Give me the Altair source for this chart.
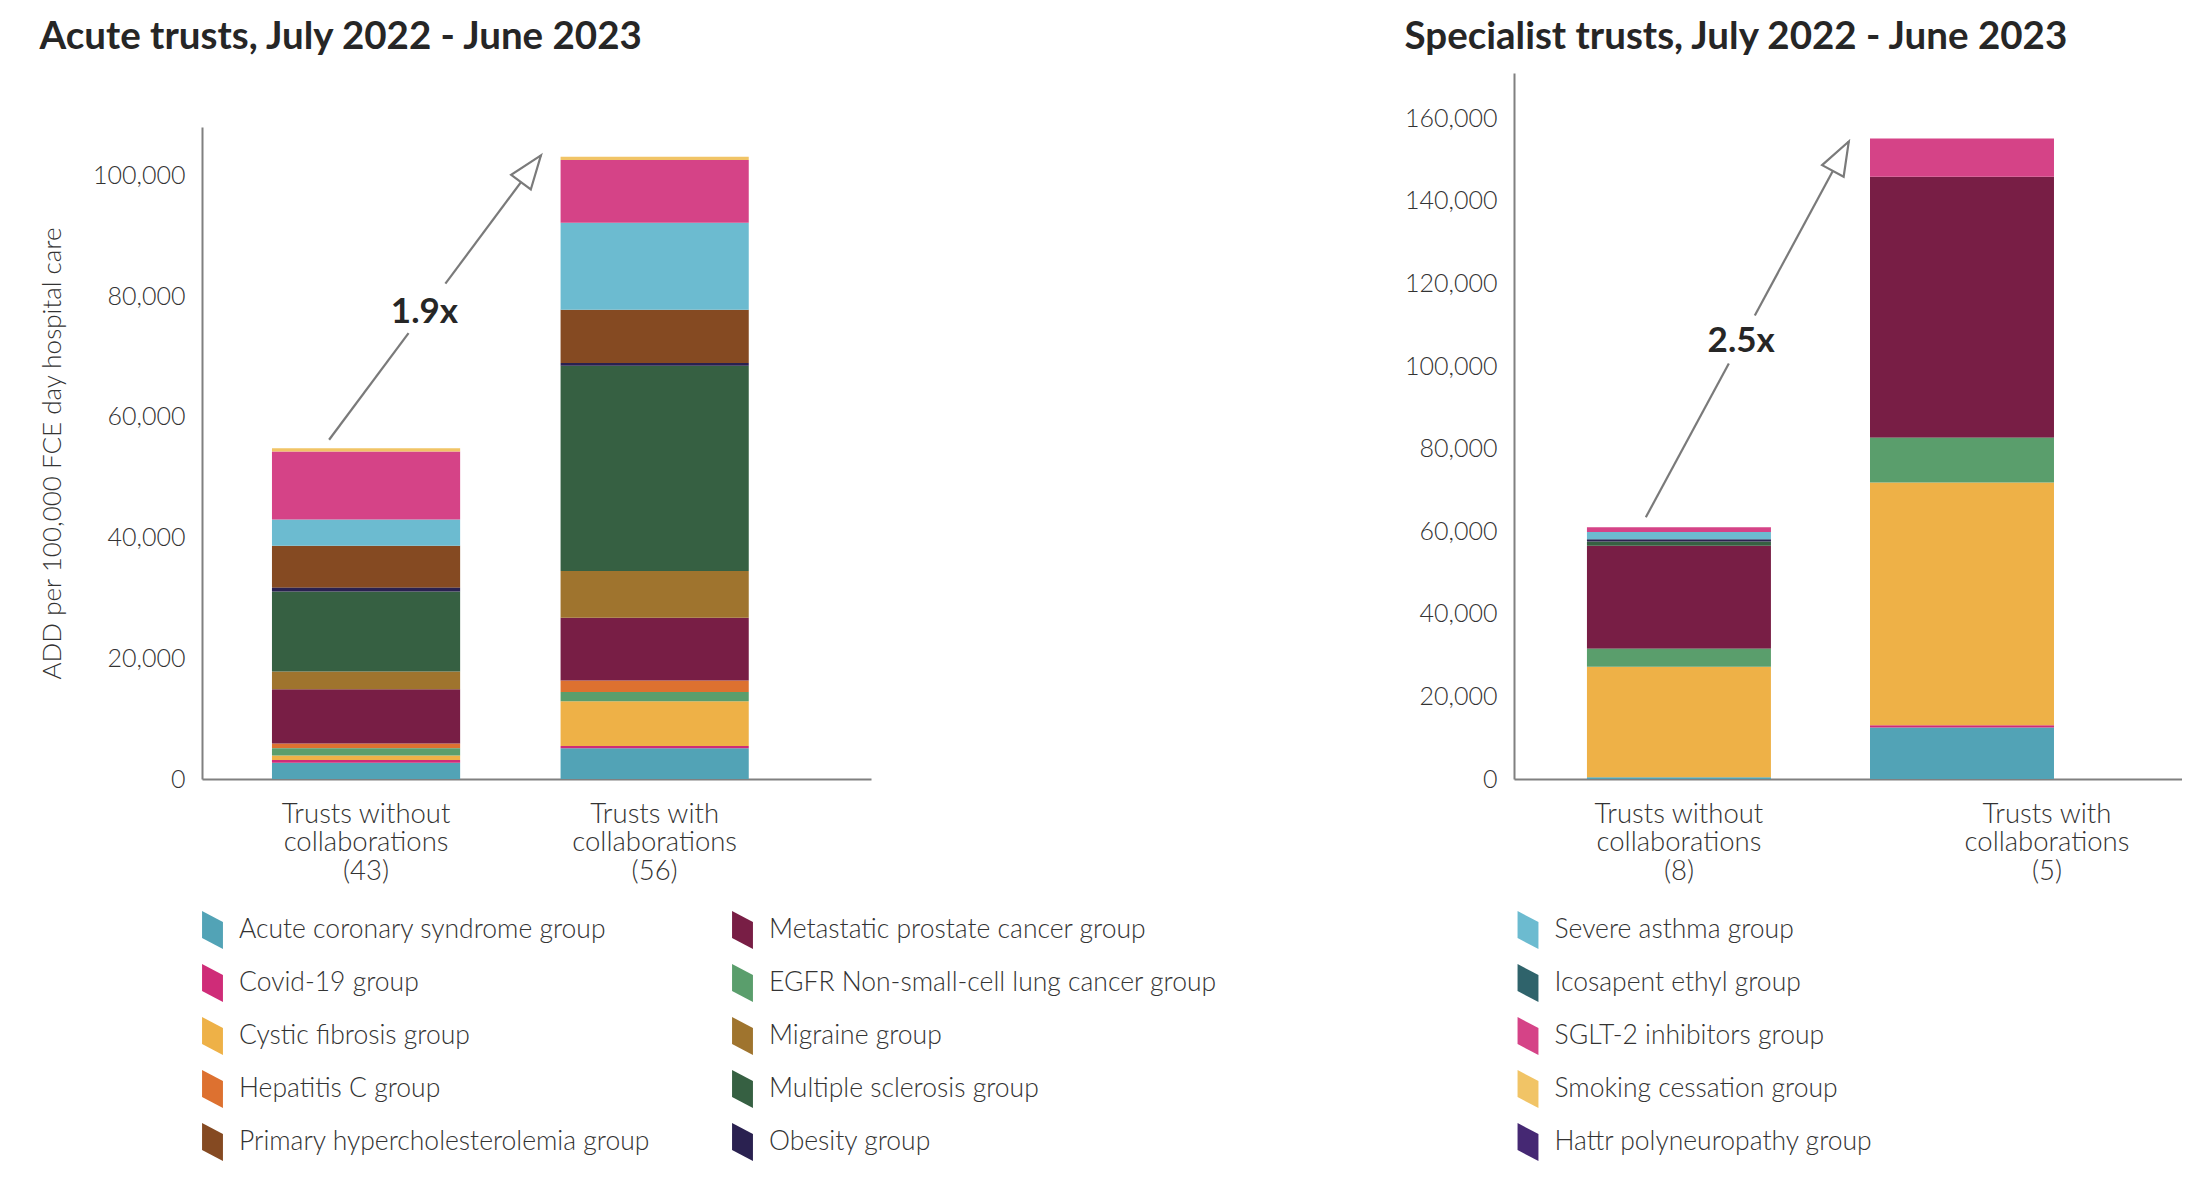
import math
import altair as alt
import pandas as pd

# ---------------- data ----------------
groups = [
    "Acute coronary syndrome group", "Covid-19 group", "Cystic fibrosis group",
    "Hepatitis C group", "Primary hypercholesterolemia group",
    "Metastatic prostate cancer group", "EGFR Non-small-cell lung cancer group",
    "Migraine group", "Multiple sclerosis group", "Obesity group",
    "Severe asthma group", "Icosapent ethyl group", "SGLT-2 inhibitors group",
    "Smoking cessation group", "Hattr polyneuropathy group",
]
colors = [
    "#52a3b6", "#cf2c78", "#eeb147", "#dd7130", "#854a22",
    "#781e45", "#5a9e6c", "#9f742e", "#366042", "#2a2150",
    "#6cbbd0", "#2f636b", "#d54387", "#f1c466", "#452873",
]

acute_cats = ["Trusts without\ncollaborations\n(43)", "Trusts with\ncollaborations\n(56)"]
spec_cats = ["Trusts without\ncollaborations\n(8)", "Trusts with\ncollaborations\n(5)"]

acute_without = [2700, 450, 750, 800, 6950, 8950, 1200, 2950, 13250, 650, 4350, 0, 11250, 520, 0]
acute_with = [5100, 370, 7400, 1900, 8800, 10400, 1550, 7750, 34000, 450, 14400, 0, 10400, 550, 0]
spec_without = [450, 0, 26750, 0, 0, 24950, 4350, 0, 1050, 500, 1750, 0, 1200, 0, 0]
spec_with = [12450, 550, 58800, 0, 0, 63250, 10850, 0, 0, 0, 0, 0, 9250, 0, 0]

acute_ticks = [0, 20000, 40000, 60000, 80000, 100000]
spec_ticks = [0, 20000, 40000, 60000, 80000, 100000, 120000, 140000, 160000]

# arrow annotation: x in bar units (0 = centre of 1st bar, 1 = centre of 2nd bar)
acute_arrow_x = [-0.128, 0.606]
acute_arrow_y = [56200, 103300]
spec_arrow_x = [-0.117, 0.600]
spec_arrow_y = [63400, 154400]

FONT = "Lato"
TXT = "#333333"
AX = "#808080"
PARA = "M-0.55,-1 L0.55,-0.42 L0.55,1 L-0.55,0.42 Z"
HEAD = "M0,0 L-1,2.73 L1,2.73 Z"
PLOT_H = 706

stack_rank = {g: i for i, g in enumerate(sorted(groups, key=str.lower))}


def band_geometry(width, n, pi, po, align):
    step = width / (n - pi + 2 * po)
    start = (width - step * (n - pi)) * align
    return step, start, step * (1 - pi)


def trust_chart(title, cats, without, with_, ymax, ticks, width, axis_len,
                pi, po, align, arrow_x, arrow_y, gap, label_t, ytitle,
                legend_values, legend_cols, legend_x, legend_y, col_pad, label2_offset):
    rows = []
    for cat, vals in zip(cats, [without, with_]):
        for g, v in zip(groups, vals):
            if v > 0:
                rows.append({"cat": cat, "group": g, "value": v, "rank": stack_rank[g]})
    df = pd.DataFrame(rows)

    yscale = alt.Scale(domain=[0, ymax], nice=False, zero=True,
                       range=[PLOT_H, PLOT_H - axis_len])
    yaxis = alt.Axis(values=ticks, format=",d", ticks=False, grid=False,
                     domainColor=AX, domainWidth=2,
                     labelFont=FONT, labelFontSize=25, labelColor=TXT, labelFontWeight=300,
                     labelPadding=17,
                     titleFont=FONT, titleFontSize=26, titleFontWeight=300,
                     titleColor=TXT, titlePadding=27)
    xaxis = alt.Axis(labelExpr="split(datum.label, '\\n')", labelAngle=0,
                     labelFont=FONT, labelFontSize=27.5, labelColor=TXT, labelFontWeight=300,
                     labelLineHeight=28.7, labelPadding=21, labelLimit=400,
                     labelOffset={"condition": {"test": "datum.index > 0.5", "value": label2_offset},
                                  "value": 0},
                     ticks=False, domainColor=AX, domainWidth=2)

    bars = alt.Chart(df).mark_bar().encode(
        x=alt.X("cat:N", sort=cats, title=None,
                scale=alt.Scale(domain=cats, paddingInner=pi, paddingOuter=po, align=align),
                axis=xaxis),
        y=alt.Y("value:Q", stack="zero", scale=yscale, axis=yaxis, title=ytitle),
        color=alt.Color("group:N", scale=alt.Scale(domain=groups, range=colors),
                        legend=alt.Legend(values=legend_values, columns=legend_cols,
                                          orient="none", legendX=legend_x, legendY=legend_y,
                                          title=None, symbolType=PARA, symbolSize=1444,
                                          symbolStrokeWidth=0, symbolOpacity=1,
                                          labelFont=FONT, labelFontSize=26.5, labelFontWeight=300,
                                          labelColor=TXT, labelOffset=7.5, labelLimit=700,
                                          rowPadding=15, columnPadding=col_pad, padding=0)),
        order=alt.Order("rank:Q", sort="ascending"),
    )

    step, start, bw = band_geometry(width, 2, pi, po, align)
    c1 = start + bw / 2
    ax_scale = alt.Scale(domain=[-c1 / step, (width - c1) / step], nice=False, zero=False)

    x0, x1 = arrow_x
    y0, y1 = arrow_y
    t1, t2 = gap
    seg = pd.DataFrame({
        "x": [x0, x0 + (x1 - x0) * t2],
        "y": [y0, y0 + (y1 - y0) * t2],
        "x2": [x0 + (x1 - x0) * t1, x1],
        "y2": [y0 + (y1 - y0) * t1, y1],
    })
    rules = alt.Chart(seg).mark_rule(color="#7a7a7a", strokeWidth=2.2).encode(
        x=alt.X("x:Q", scale=ax_scale, axis=None), x2="x2:Q",
        y=alt.Y("y:Q", scale=yscale, axis=yaxis, title=ytitle), y2="y2:Q",
    )
    angle = math.degrees(math.atan2((x1 - x0) * step, (y1 - y0) * axis_len / ymax)) % 360
    head = alt.Chart(pd.DataFrame({"x": [x1], "y": [y1]})).mark_point(
        shape=HEAD, size=600, filled=True, fill="white", stroke="#7a7a7a",
        strokeWidth=2.2, opacity=1, fillOpacity=1, angle=angle,
    ).encode(
        x=alt.X("x:Q", scale=ax_scale, axis=None),
        y=alt.Y("y:Q", scale=yscale, axis=yaxis, title=ytitle),
    )
    ratio = sum(with_) / sum(without)
    lab = pd.DataFrame({"x": [x0 + (x1 - x0) * label_t], "y": [y0 + (y1 - y0) * label_t],
                        "t": [f"{ratio:.1f}x"]})
    text = alt.Chart(lab).mark_text(font=FONT, fontSize=35, fontWeight="bold",
                                    color="#262626").encode(
        x=alt.X("x:Q", scale=ax_scale, axis=None),
        y=alt.Y("y:Q", scale=yscale, axis=yaxis, title=ytitle),
        text="t:N",
    )

    return alt.layer(bars, rules, head, text).resolve_scale(x="independent").properties(
        width=width, height=PLOT_H,
        title=alt.TitleParams(title, anchor="start", frame="bounds", font=FONT,
                              fontSize=38.5, fontWeight="bold", color="#262626",
                              offset=16),
    )


left_legend = groups[:10]
right_legend = groups[10:]

left = trust_chart("Acute trusts, July 2022 - June 2023", acute_cats,
                   acute_without, acute_with, 108000, acute_ticks, 669, 652,
                   0.348, 0.333, 0.364, acute_arrow_x, acute_arrow_y, (0.375, 0.549), 0.45,
                   "ADD per 100,000 FCE day hospital care",
                   left_legend, 2, -8.5, 838, 73, 0)
right = trust_chart("Specialist trusts, July 2022 - June 2023", spec_cats,
                    spec_without, spec_with, 171000, spec_ticks, 668, 706,
                    0.35, 0.355, 0.363, spec_arrow_x, spec_arrow_y, (0.409, 0.537), 0.47,
                    None, right_legend, 1, -5, 838, 20, 85)

chart = alt.hconcat(left, right, spacing=186).resolve_scale(color="independent").properties(
    padding={"left": 31, "top": 9, "right": 0, "bottom": 0}
).configure_view(stroke=None)

chart.save("out.html", embed_options={"renderer": "svg", "actions": False})
